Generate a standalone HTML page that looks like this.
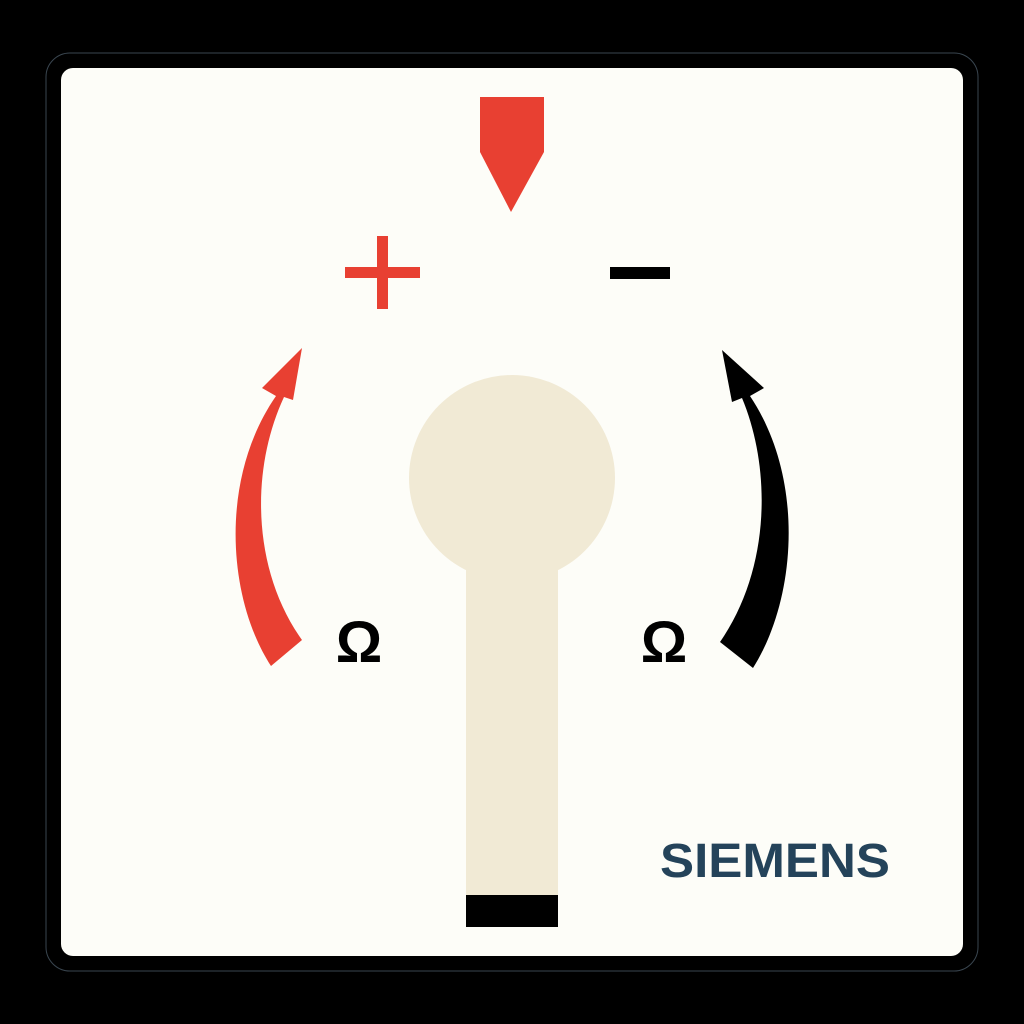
<!DOCTYPE html>
<html><head><meta charset="utf-8"><style>
html,body{margin:0;padding:0;background:#000;width:1024px;height:1024px;overflow:hidden}
svg{display:block}
</style></head><body>
<svg width="1024" height="1024" viewBox="0 0 1024 1024">
<rect x="0" y="0" width="1024" height="1024" fill="#000"/>
<rect x="46" y="53" width="932" height="918" rx="24" fill="none" stroke="#3a4650" stroke-width="1"/>
<rect x="61" y="68" width="902" height="888" rx="12" fill="#fdfdf8"/>
<path d="M480 97 H544 V152 L511 212 L480 152 Z" fill="#e84032"/>
<g fill="#e84032">
<rect x="345" y="267" width="75" height="11"/>
<rect x="377" y="236" width="11" height="73"/>
</g>
<rect x="610" y="267" width="60" height="12" fill="#000"/>
<path d="M271 666 C228 600 218 480 276 396 L262 388 L302 348 L293 400 L284 397 C250 470 252 570 302 640 Z" fill="#e84032"/>
<path d="M753 668 C796 600 806 480 750 396 L764 388 L722 350 L732 402 L742 398 C772 470 770 570 720 642 Z" fill="#000"/>
<text x="359" y="662" font-family="Liberation Sans, sans-serif" font-weight="bold" font-size="58" text-anchor="middle" fill="#000">Ω</text>
<text x="664" y="662" font-family="Liberation Sans, sans-serif" font-weight="bold" font-size="58" text-anchor="middle" fill="#000">Ω</text>
<g fill="#f1ead5">
<circle cx="512" cy="478" r="103"/>
<rect x="466" y="540" width="92" height="356"/>
</g>
<rect x="466" y="895" width="92" height="32" fill="#000"/>
<text x="660" y="877" font-family="Liberation Sans, sans-serif" font-weight="bold" font-size="48" textLength="230" lengthAdjust="spacingAndGlyphs" fill="#24435a">SIEMENS</text>
</svg>
</body></html>
